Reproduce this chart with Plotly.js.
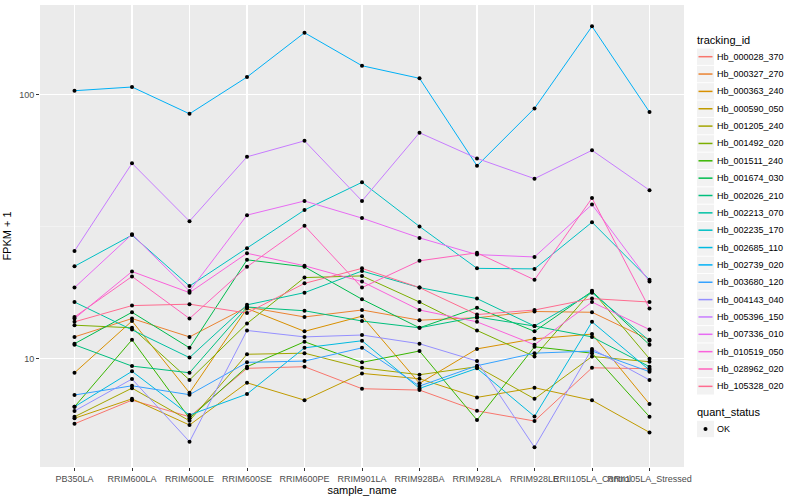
<!DOCTYPE html>
<html><head><meta charset="utf-8">
<script src="https://cdn.plot.ly/plotly-3.0.1.min.js"></script>
<style>html,body{margin:0;padding:0;background:#fff}</style>
</head><body><div id="chart" style="width:800px;height:500px"></div>
<script>
const samples = ["PB350LA","RRIM600LA","RRIM600LE","RRIM600SE","RRIM600PE","RRIM901LA","RRIM928BA","RRIM928LA","RRIM928LE","RRII105LA_Control","RRII105LA_Stressed"];
const trackingIds = ["Hb_000028_370","Hb_000327_270","Hb_000363_240","Hb_000590_050","Hb_001205_240","Hb_001492_020","Hb_001511_240","Hb_001674_030","Hb_002026_210","Hb_002213_070","Hb_002235_170","Hb_002685_110","Hb_002739_020","Hb_003680_120","Hb_004143_040","Hb_005396_150","Hb_007336_010","Hb_010519_050","Hb_028962_020","Hb_105328_020"];
const lineColors = ["#F8766D","#EA8331","#D89000","#C09B00","#A3A500","#7CAE00","#39B600","#00BB4E","#00BF7D","#00C1A3","#00BFC4","#00BAE0","#00B0F6","#35A2FF","#9590FF","#C77CFF","#E76BF3","#FA62DB","#FF62BC","#FF6C90"];

// FPKM + 1 per sample, one array per tracking_id
const hb_000028_370 = [5.67, 6.97, 6.03, 9.20, 9.33, 7.70, 7.61, 6.35, 5.81, 9.24, 9.17];
const hb_000327_270 = [12.1, 14.2, 12.1, 15.7, 14.4, 15.3, 14.0, 14.3, 15.1, 15.0, 11.8];
const hb_000363_240 = [8.85, 13.9, 7.43, 15.5, 12.7, 14.5, 8.07, 10.9, 11.9, 12.4, 6.74];
const hb_000590_050 = [5.95, 7.05, 5.61, 8.11, 6.97, 8.80, 8.40, 7.14, 7.77, 6.96, 5.26];
const hb_001205_240 = [6.03, 7.74, 5.82, 10.4, 10.5, 9.24, 8.70, 9.33, 7.05, 10.2, 9.74];
const hb_001492_020 = [13.4, 13.1, 8.31, 13.6, 20.3, 20.6, 16.4, 12.8, 10.2, 18.1, 10.0];
const hb_001511_240 = [6.58, 11.8, 5.95, 9.33, 11.6, 9.69, 10.7, 5.86, 11.1, 10.5, 6.03];
const hb_001674_030 = [11.4, 15.0, 11.0, 23.7, 22.3, 16.8, 13.1, 15.6, 12.7, 18.0, 11.3];
const hb_002026_210 = [11.3, 9.38, 8.85, 15.7, 15.2, 13.9, 13.1, 14.4, 13.3, 12.1, 9.33];
const hb_002213_070 = [16.4, 12.9, 10.1, 16.0, 17.8, 21.5, 18.6, 16.9, 13.3, 17.8, 11.7];
const hb_002235_170 = [22.4, 29.4, 18.85, 26.2, 36.6, 46.6, 31.7, 22.0, 21.9, 32.9, 19.9];
const hb_002685_110 = [6.58, 8.96, 6.12, 7.35, 11.0, 11.7, 7.72, 9.20, 6.05, 13.8, 9.06];
const hb_002739_020 = [103.6, 107, 84.7, 116.7, 171.8, 128.8, 115.4, 53.8, 88.8, 181.6, 86.0];
const hb_003680_120 = [7.29, 7.90, 7.31, 9.69, 9.80, 11.0, 7.88, 9.41, 10.5, 10.7, 8.93];
const hb_004143_040 = [6.34, 8.38, 4.85, 12.8, 12.1, 12.3, 11.4, 9.80, 4.62, 10.9, 8.31];
const hb_005396_150 = [25.6, 55.0, 33.2, 58.2, 66.9, 39.6, 71.8, 57.4, 48.1, 61.6, 43.5];
const hb_007336_010 = [18.6, 29.6, 18.05, 35.0, 39.6, 34.1, 28.7, 24.8, 24.3, 38.4, 19.6];
const hb_010519_050 = [14.2, 21.4, 17.8, 25.1, 22.5, 19.6, 15.3, 13.8, 11.3, 16.4, 12.9];
const hb_028962_020 = [14.4, 20.5, 14.2, 22.3, 31.9, 18.6, 23.5, 25.2, 19.9, 40.6, 15.5];
const hb_105328_020 = [13.8, 15.9, 16.1, 14.9, 19.3, 22.0, 18.6, 14.7, 15.3, 16.9, 16.4];

const quantStatus = "OK";
const yTickVals = [10, 100];
const yTickText = ["10", "100"];
const yMinorVals = [31.6228];

const seriesValues = [hb_000028_370, hb_000327_270, hb_000363_240, hb_000590_050, hb_001205_240, hb_001492_020, hb_001511_240, hb_001674_030, hb_002026_210, hb_002213_070, hb_002235_170, hb_002685_110, hb_002739_020, hb_003680_120, hb_004143_040, hb_005396_150, hb_007336_010, hb_010519_050, hb_028962_020, hb_105328_020];

const FONT = "Liberation Sans, Arial, Helvetica, sans-serif";
const traces = seriesValues.map((vals, i) => ({
  type: "scatter", mode: "lines", x: samples, y: vals,
  name: trackingIds[i], showlegend: false,
  line: { color: lineColors[i], width: 1 }
}));
const px = [], py = [];
seriesValues.forEach(vals => vals.forEach((v, j) => { px.push(samples[j]); py.push(v); }));
traces.push({
  type: "scatter", mode: "markers", x: px, y: py, name: quantStatus, showlegend: false,
  marker: { color: "#000000", size: 4, symbol: "circle" }
});

// ---- ggplot-style legend drawn in paper coordinates ----
const M = { l: 40, r: 116, t: 5, b: 33 };
const PW = 800 - M.l - M.r, PH = 500 - M.t - M.b;
const fx = X => (X - M.l) / PW;
const fy = Y => (500 - M.b - Y) / PH;
const shapes = [], annotations = [];
const LEG_X = 696, KEY_L = 697, KEY_R = 714, TXT_X = 716, ROW0 = 56.7, ROW_H = 17.35;
annotations.push({ xref: "paper", yref: "paper", x: fx(LEG_X), y: fy(40.5), xanchor: "left", yanchor: "middle",
  text: "tracking_id", showarrow: false, borderpad: 0, font: { size: 11, family: FONT, color: "#000" } });
trackingIds.forEach((id, i) => {
  const cy = ROW0 + ROW_H * i;
  shapes.push({ type: "rect", xref: "paper", yref: "paper", x0: fx(KEY_L), x1: fx(KEY_R),
    y0: fy(cy - 8.2), y1: fy(cy + 8.2), fillcolor: "#F2F2F2", line: { width: 0 }, layer: "above" });
  shapes.push({ type: "line", xref: "paper", yref: "paper", x0: fx(KEY_L + 1.5), x1: fx(KEY_R - 1.5),
    y0: fy(cy), y1: fy(cy), line: { color: lineColors[i], width: 1.5 }, layer: "above" });
  annotations.push({ xref: "paper", yref: "paper", x: fx(TXT_X), y: fy(cy), xanchor: "left", yanchor: "middle",
    text: id, showarrow: false, borderpad: 0, font: { size: 9, family: FONT, color: "#000" } });
});
annotations.push({ xref: "paper", yref: "paper", x: fx(LEG_X), y: fy(412.3), xanchor: "left", yanchor: "middle",
  text: "quant_status", showarrow: false, borderpad: 0, font: { size: 11, family: FONT, color: "#000" } });
shapes.push({ type: "rect", xref: "paper", yref: "paper", x0: fx(KEY_L), x1: fx(KEY_R),
  y0: fy(429 - 8.2), y1: fy(429 + 8.2), fillcolor: "#F2F2F2", line: { width: 0 }, layer: "above" });
shapes.push({ type: "circle", xref: "paper", yref: "paper", x0: fx(703.5), x1: fx(707.5),
  y0: fy(427), y1: fy(431), fillcolor: "#000", line: { width: 0 }, layer: "above" });
annotations.push({ xref: "paper", yref: "paper", x: fx(TXT_X), y: fy(429), xanchor: "left", yanchor: "middle",
  text: quantStatus, showarrow: false, borderpad: 0, font: { size: 9, family: FONT, color: "#000" } });

const layout = {
  width: 800, height: 500,
  paper_bgcolor: "#FFFFFF", plot_bgcolor: "#EBEBEB",
  font: { family: FONT, color: "#000000" },
  margin: M,
  showlegend: false,
  xaxis: {
    type: "category", range: [-0.6, 10.6],
    showgrid: true, gridcolor: "#FFFFFF", gridwidth: 1.1,
    zeroline: false, showline: false,
    ticks: "outside", ticklen: 3, tickcolor: "#333333", tickwidth: 1,
    tickangle: 0, tickfont: { size: 9, color: "#4D4D4D", family: FONT },
    title: { text: "sample_name", font: { size: 11, color: "#000000", family: FONT }, standoff: 3 }
  },
  yaxis: {
    type: "log", range: [0.59, 2.34],
    tickvals: yTickVals, ticktext: yTickText,
    showgrid: true, gridcolor: "#FFFFFF", gridwidth: 1.1,
    zeroline: false, showline: false,
    ticks: "outside", ticklen: 3, tickcolor: "#333333", tickwidth: 1,
    tickfont: { size: 9, color: "#4D4D4D", family: FONT },
    minor: { tickvals: yMinorVals, showgrid: true, gridcolor: "#F7F7F7", gridwidth: 0.6, ticks: "" },
    title: { text: "FPKM + 1", font: { size: 11, color: "#000000", family: FONT }, standoff: 5 }
  },
  shapes: shapes,
  annotations: annotations
};
Plotly.newPlot("chart", traces, layout, { displayModeBar: false, staticPlot: true });
</script></body></html>
